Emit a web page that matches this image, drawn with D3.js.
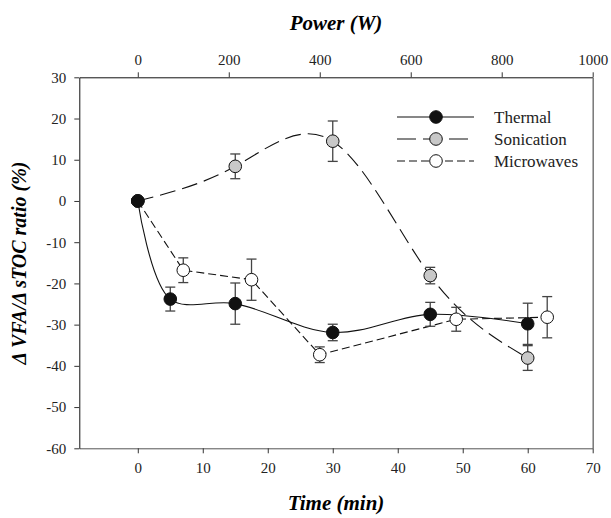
<!DOCTYPE html>
<html>
<head>
<meta charset="utf-8">
<script src="https://cdn.jsdelivr.net/npm/d3@7"></script>
<style>
body{margin:0;background:#fff;}
</style>
</head>
<body>
<div id="chart"></div>
<script>
// data
const thermalTime=[0,5,15,30,45,60];
const thermalVal=[0,-23.8,-24.9,-31.9,-27.5,-29.8];
const thermalErr=[0,2.9,5,2,2.9,5];

const sonicTime=[0,15,30,45,60];
const sonicVal=[0,8.4,14.5,-18.1,-38.1];
const sonicErr=[0,3,4.9,2,3];

// microwaves are plotted against power (top axis)
const microPower=[0,100,250,400,700,900];
const microVal=[0,-16.8,-19.1,-37.3,-28.7,-28.2];
const microErr=[0,3,5,1.9,2.9,5];

const timeTicks=[0,10,20,30,40,50,60,70];
const powerTicks=[0,200,400,600,800,1000];
const yTicks=[30,20,10,0,-10,-20,-30,-40,-50,-60];
const seriesNames=["Thermal","Sonication","Microwaves"];

const W=611,H=518;
const mLeft=79.3,mRight=592.7,mTop=77.3,mBottom=448.3;

// pick a serif face that is really installed
function pickFont(list){
  const ctx=document.createElement("canvas").getContext("2d");
  const probe="mmmmmmmmmmlli WW 0123";
  ctx.font="32px monospace";
  const base=ctx.measureText(probe).width;
  for(const f of list){
    ctx.font="32px '"+f+"', monospace";
    if(Math.abs(ctx.measureText(probe).width-base)>0.5) return "'"+f+"'";
  }
  return "serif";
}
const serif=pickFont(["Liberation Serif","Times New Roman","Tinos","Times","Nimbus Roman","DejaVu Serif","Noto Serif","FreeSerif"]);

const svg=d3.select("#chart").append("svg").attr("width",W).attr("height",H)
  .attr("font-family",serif);

const x=d3.scaleLinear().domain([-9,70]).range([mLeft,mRight]);
const xp=d3.scaleLinear().domain([-9*1000/70,1000]).range([mLeft,mRight]);
const y=d3.scaleLinear().domain([-60,30]).range([mBottom,mTop]);
const plain=d=>String(d);

// axes
const gB=svg.append("g").attr("transform","translate(0,"+mBottom+")")
  .call(d3.axisBottom(x).tickValues(timeTicks).tickFormat(plain).tickSize(5).tickSizeOuter(0).tickPadding(9));
const gT=svg.append("g").attr("transform","translate(0,"+mTop+")")
  .call(d3.axisTop(xp).tickValues(powerTicks).tickFormat(plain).tickSize(5).tickSizeOuter(0).tickPadding(7));
const gL=svg.append("g").attr("transform","translate("+mLeft+",0)")
  .call(d3.axisLeft(y).tickValues(yTicks).tickFormat(plain).tickSize(5).tickSizeOuter(0).tickPadding(8));
const gR=svg.append("g").attr("transform","translate("+mRight+",0)")
  .call(d3.axisRight(y).tickValues([]).tickSizeOuter(0));

[gB,gT,gL,gR].forEach(g=>{
  g.attr("font-family",serif).attr("font-size",15);
  g.selectAll("text").attr("fill","#222");
  g.selectAll("line").attr("stroke","#333");
});
gT.select(".domain").attr("stroke","#111");
gL.select(".domain").attr("stroke","#111");
gB.select(".domain").attr("stroke","#555");
gR.select(".domain").attr("stroke","#777").attr("stroke-width",1.5);

// axis titles
svg.append("text").attr("x",336).attr("y",30).attr("text-anchor","middle")
  .attr("font-size",21).attr("font-weight","bold").attr("font-style","italic")
  .text("Power (W)");
svg.append("text").attr("x",336).attr("y",510).attr("text-anchor","middle")
  .attr("font-size",21).attr("font-weight","bold").attr("font-style","italic")
  .text("Time (min)");
svg.append("text").attr("transform","translate(26,263) rotate(-90)").attr("text-anchor","middle")
  .attr("font-size",20).attr("font-weight","bold").attr("font-style","italic")
  .text("\u0394 VFA/\u0394 sTOC ratio (%)");

const thermal=thermalTime.map((t,i)=>({px:x(t),v:thermalVal[i],e:thermalErr[i]}));
const sonic=sonicTime.map((t,i)=>({px:x(t),v:sonicVal[i],e:sonicErr[i]}));
const micro=microPower.map((p,i)=>({px:xp(p),v:microVal[i],e:microErr[i]}));

const series=[
  {data:micro,fill:"#fff",dash:"8,4",curve:d3.curveLinear},
  {data:sonic,fill:"#c8c8c8",dash:"16,7",curve:d3.curveNatural},
  {data:thermal,fill:"#111",dash:null,curve:d3.curveCatmullRom.alpha(0.5)}
];

series.forEach(s=>{
  svg.append("path").datum(s.data)
    .attr("d",d3.line().x(d=>d.px).y(d=>y(d.v)).curve(s.curve))
    .attr("fill","none").attr("stroke","#111").attr("stroke-width",1.1)
    .attr("stroke-dasharray",s.dash);
});

series.forEach(s=>{
  const eb=svg.append("g").selectAll("g").data(s.data.filter(d=>d.e>0)).join("g")
    .attr("stroke","#444").attr("stroke-width",1.3);
  eb.append("line").attr("x1",d=>d.px).attr("x2",d=>d.px)
    .attr("y1",d=>y(d.v+d.e)).attr("y2",d=>y(d.v-d.e));
  eb.append("line").attr("x1",d=>d.px-5).attr("x2",d=>d.px+5)
    .attr("y1",d=>y(d.v+d.e)).attr("y2",d=>y(d.v+d.e));
  eb.append("line").attr("x1",d=>d.px-5).attr("x2",d=>d.px+5)
    .attr("y1",d=>y(d.v-d.e)).attr("y2",d=>y(d.v-d.e));
});

series.forEach(s=>{
  svg.append("g").selectAll("circle").data(s.data).join("circle")
    .attr("cx",d=>d.px).attr("cy",d=>y(d.v)).attr("r",6.3)
    .attr("fill",s.fill).attr("stroke","#111").attr("stroke-width",1);
});

// legend
const legend=[
  {name:seriesNames[0],fill:"#111",dash:null},
  {name:seriesNames[1],fill:"#c8c8c8",dash:"19,7"},
  {name:seriesNames[2],fill:"#fff",dash:"8,4"}
];
const lg=svg.append("g").selectAll("g").data(legend).join("g")
  .attr("transform",(d,i)=>"translate(0,"+(117+i*22)+")");
lg.append("line").attr("x1",397).attr("x2",474).attr("y1",0).attr("y2",0)
  .attr("stroke","#111").attr("stroke-width",1.1).attr("stroke-dasharray",d=>d.dash);
lg.append("circle").attr("cx",436).attr("cy",0).attr("r",6.3)
  .attr("fill",d=>d.fill).attr("stroke","#111");
lg.append("text").attr("x",494).attr("y",6).attr("font-size",17).attr("fill","#222")
  .text(d=>d.name);
</script>
</body>
</html>
